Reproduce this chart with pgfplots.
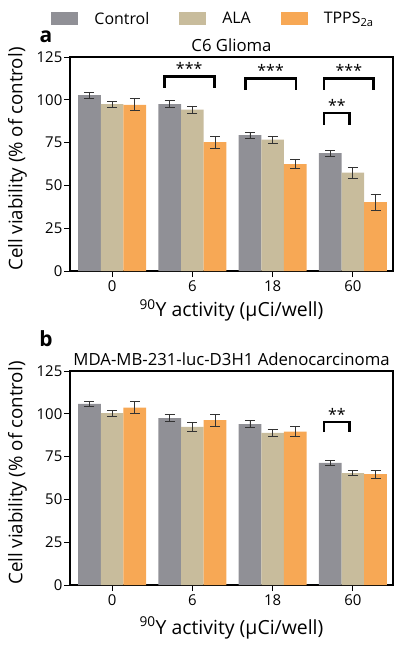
\documentclass[border=0pt]{standalone}
\usepackage{fontspec}
\setmainfont{Open Sans}
\usepackage{pgfplots}
\pgfplotsset{compat=1.18}
\definecolor{cctrl}{HTML}{909096}
\definecolor{cala}{HTML}{C8BC9C}
\definecolor{ctpps}{HTML}{F7A855}
\pgfplotsset{
 panel/.style={
  scale only axis, width=323bp, height=214bp,
  ybar, bar width=0.283, clip=false,
  xmin=-0.525, xmax=3.5, ymin=0, ymax=125,
  xtick={0,1,2,3}, xticklabels={0,6,18,60},
  ytick={0,25,50,75,100,125},
  tick align=outside, xtick pos=bottom, ytick pos=left,
  major tick length=6bp,
  every tick/.style={black, line width=0.8bp},
  axis line style={line width=1.2bp},
  tick label style={font=\fontsize{15}{18}\selectfont},
  yticklabel style={inner sep=1.5bp},
  /pgf/number format/assume math mode=true,
  ylabel style={font=\fontsize{18.8}{22}\selectfont, at={(axis description cs:-0.163,0.0)}, anchor=west, inner sep=0pt},
  xlabel style={font=\fontsize{19.5}{22}\selectfont, anchor=base},
  title style={font=\fontsize{16.8}{19}\selectfont, yshift=-4bp},
  ylabel={Cell viability (\% of control)},
  xlabel={\textsuperscript{90}Y activity (µCi/well)},
  error bars/y dir=both, error bars/y explicit,
  error bars/error bar style={line width=0.8bp, black!80},
  error bars/error mark options={rotate=90, mark size=5bp, line width=0.8bp, black!80},
  legend image code/.code={\fill[##1,draw=none] (0bp,-6.5bp) rectangle (27bp,6.5bp);},
 },
}
\tikzset{brk/.style={line width=2.6bp, black}}
\newcommand{\stars}[1]{\fontsize{16}{16}\selectfont #1}
\begin{document}
\begin{tikzpicture}
\begin{axis}[panel, at={(70bp,-271bp)}, anchor=south west,
  title={C6 Glioma},
  xlabel style={at={(axis description cs:0.5,-0.213)}},
  legend style={at={(axis description cs:-0.058,1.178)}, anchor=west, draw=none, legend columns=3,
    inner sep=0pt,
    font=\fontsize{16}{18}\selectfont,
    /tikz/every odd column/.append style={column sep=14bp},
    /tikz/every even column/.append style={column sep=28bp}}]
\addplot[fill=cctrl, draw=none, bar shift=-0.283] coordinates {
 (0,102.7) +- (0,1.8) (1,97.5) +- (0,2.0) (2,79.3) +- (0,1.7) (3,68.8) +- (0,1.8)};
\addplot[fill=cala, draw=none, bar shift=0] coordinates {
 (0,97.5) +- (0,1.8) (1,94.2) +- (0,2.2) (2,76.8) +- (0,2.0) (3,57.4) +- (0,3.3)};
\addplot[fill=ctpps, draw=none, bar shift=0.283] coordinates {
 (0,97.1) +- (0,3.5) (1,75.3) +- (0,3.4) (2,62.5) +- (0,2.6) (3,40.3) +- (0,4.7)};
\legend{Control, ALA, TPPS\textsubscript{2a}}
\draw[brk] (axis cs:0.65,107) -- (axis cs:0.65,113.6) -- (axis cs:1.275,113.6) -- (axis cs:1.275,107);
\node[anchor=south, inner sep=0pt] at (axis cs:0.96,114.5) {\stars{***}};
\draw[brk] (axis cs:1.66,106) -- (axis cs:1.66,112.4) -- (axis cs:2.29,112.4) -- (axis cs:2.29,106);
\node[anchor=south, inner sep=0pt] at (axis cs:1.975,113.3) {\stars{***}};
\draw[brk] (axis cs:2.64,106) -- (axis cs:2.64,112.4) -- (axis cs:3.26,112.4) -- (axis cs:3.26,106);
\node[anchor=south, inner sep=0pt] at (axis cs:2.95,113.3) {\stars{***}};
\draw[brk] (axis cs:2.64,85.5) -- (axis cs:2.64,92.3) -- (axis cs:2.96,92.3) -- (axis cs:2.96,85.5);
\node[anchor=south, inner sep=0pt] at (axis cs:2.80,93.2) {\stars{**}};
\end{axis}
\begin{axis}[panel, at={(70bp,-585bp)}, anchor=south west,
  xlabel style={at={(axis description cs:0.5,-0.23)}},
  title={MDA-MB-231-luc-D3H1 Adenocarcinoma}]
\addplot[fill=cctrl, draw=none, bar shift=-0.283] coordinates {
 (0,105.8) +- (0,1.7) (1,97.5) +- (0,2.1) (2,94.0) +- (0,2.0) (3,71.3) +- (0,1.6)};
\addplot[fill=cala, draw=none, bar shift=0] coordinates {
 (0,100.4) +- (0,1.8) (1,92.3) +- (0,2.4) (2,88.8) +- (0,2.2) (3,65.4) +- (0,1.6)};
\addplot[fill=ctpps, draw=none, bar shift=0.283] coordinates {
 (0,103.6) +- (0,3.4) (1,96.3) +- (0,3.5) (2,89.6) +- (0,2.9) (3,64.7) +- (0,2.4)};
\draw[brk] (axis cs:2.64,89.3) -- (axis cs:2.64,95.3) -- (axis cs:2.96,95.3) -- (axis cs:2.96,89.3);
\node[anchor=south, inner sep=0pt] at (axis cs:2.80,96.2) {\stars{**}};
\end{axis}
\node[font=\bfseries\fontsize{21}{21}\selectfont] at (46bp,-37bp) {a};
\node[font=\bfseries\fontsize{21}{21}\selectfont] at (46bp,-339bp) {b};
\pgfresetboundingbox
\path (0,0) rectangle (402bp,-652bp);
\end{tikzpicture}
\end{document}
